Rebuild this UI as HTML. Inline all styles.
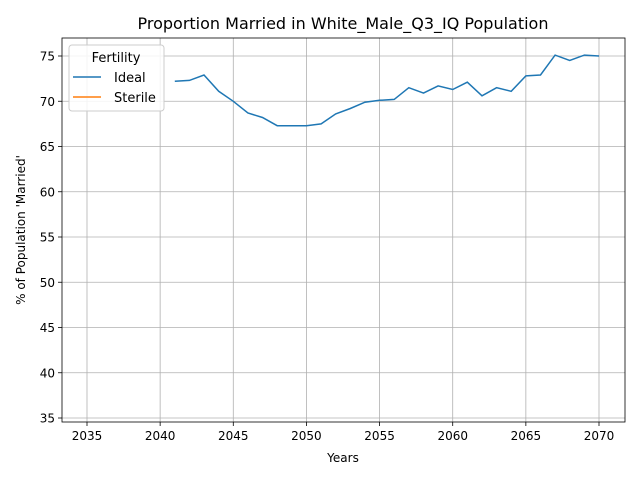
<!DOCTYPE html>
<html><head><meta charset="utf-8"><style>body{margin:0;background:#fff}svg{display:block;font-family:"DejaVu Sans","Liberation Sans",sans-serif}</style></head>
<body>
<svg id="chart" width="640" height="480"></svg>
<script>
const years=[2041,2042,2043,2044,2045,2046,2047,2048,2049,2050,2051,2052,2053,2054,2055,2056,2057,2058,2059,2060,2061,2062,2063,2064,2065,2066,2067,2068,2069,2070];
const ideal=[72.2,72.3,72.9,71.1,70.0,68.7,68.2,67.3,67.3,67.3,67.5,68.6,69.2,69.9,70.1,70.2,71.5,70.9,71.7,71.3,72.1,70.6,71.5,71.1,72.8,72.9,75.1,74.5,75.1,75.0];
const xTicks=[2035,2040,2045,2050,2055,2060,2065,2070];
const yTicks=[35,40,45,50,55,60,65,70,75];
const NS='http://www.w3.org/2000/svg';
const svg=document.getElementById('chart');
const L=62,R=625,T=38,B=422;
const xs=y=>87+(y-2035)*(512/35);
const ys=v=>56+(75-v)*(362/40);
function mk(tag,attrs,txt){const e=document.createElementNS(NS,tag);for(const k in attrs)e.setAttribute(k,attrs[k]);if(txt!==undefined)e.textContent=txt;svg.appendChild(e);return e;}
for(const t of xTicks){
 const g=mk('line',{x1:xs(t),x2:xs(t),y1:T,y2:B,stroke:'#b0b0b0','stroke-width':0.8});
 
 
 mk('line',{x1:xs(t),x2:xs(t),y1:B,y2:B+4,stroke:'#000','stroke-width':0.8});
 const l=mk('text',{x:xs(t),y:B+18,'font-size':12,'text-anchor':'middle'},t);
 
 
}
for(const t of yTicks){
 const g=mk('line',{x1:L,x2:R,y1:ys(t),y2:ys(t),stroke:'#b0b0b0','stroke-width':0.8});
 
 
 mk('line',{x1:L-4,x2:L,y1:ys(t),y2:ys(t),stroke:'#000','stroke-width':0.8});
 const l=mk('text',{x:L-7,y:ys(t)+4.5,'font-size':12,'text-anchor':'end'},t);
 
 
}
const pts=years.map((y,i)=>xs(y).toFixed(1)+','+ys(ideal[i]).toFixed(1)).join(' ');
const line=mk('polyline',{points:pts,fill:'none',stroke:'#1f77b4','stroke-width':1.5});


const fr=mk('rect',{x:L,y:T,width:R-L,height:B-T,fill:'none',stroke:'#000','stroke-width':0.8});


const title=mk('text',{x:343,y:29,'font-size':16,'text-anchor':'middle'},"Proportion Married in White_Male_Q3_IQ Population");


const xl=mk('text',{x:343,y:462,'font-size':12,'text-anchor':'middle'},'Years');


const yl=mk('text',{x:25,y:230,'font-size':12,'text-anchor':'middle',transform:'rotate(-90 25 230)'},"% of Population 'Married'");


const lg=mk('rect',{x:69,y:45,width:95,height:66,rx:3,fill:'#fff','fill-opacity':0.85,stroke:'#ccc','stroke-width':1});


const lt=mk('text',{x:116,y:62,'font-size':13,'text-anchor':'middle'},'Fertility');


mk('line',{x1:73,x2:101,y1:77,y2:77,stroke:'#1f77b4','stroke-width':1.5});
const e1=mk('text',{x:114,y:82,'font-size':13},'Ideal');


mk('line',{x1:73,x2:101,y1:97,y2:97,stroke:'#ff7f0e','stroke-width':1.5});
const e2=mk('text',{x:114,y:102,'font-size':13},'Sterile');


</script>
</body></html>
